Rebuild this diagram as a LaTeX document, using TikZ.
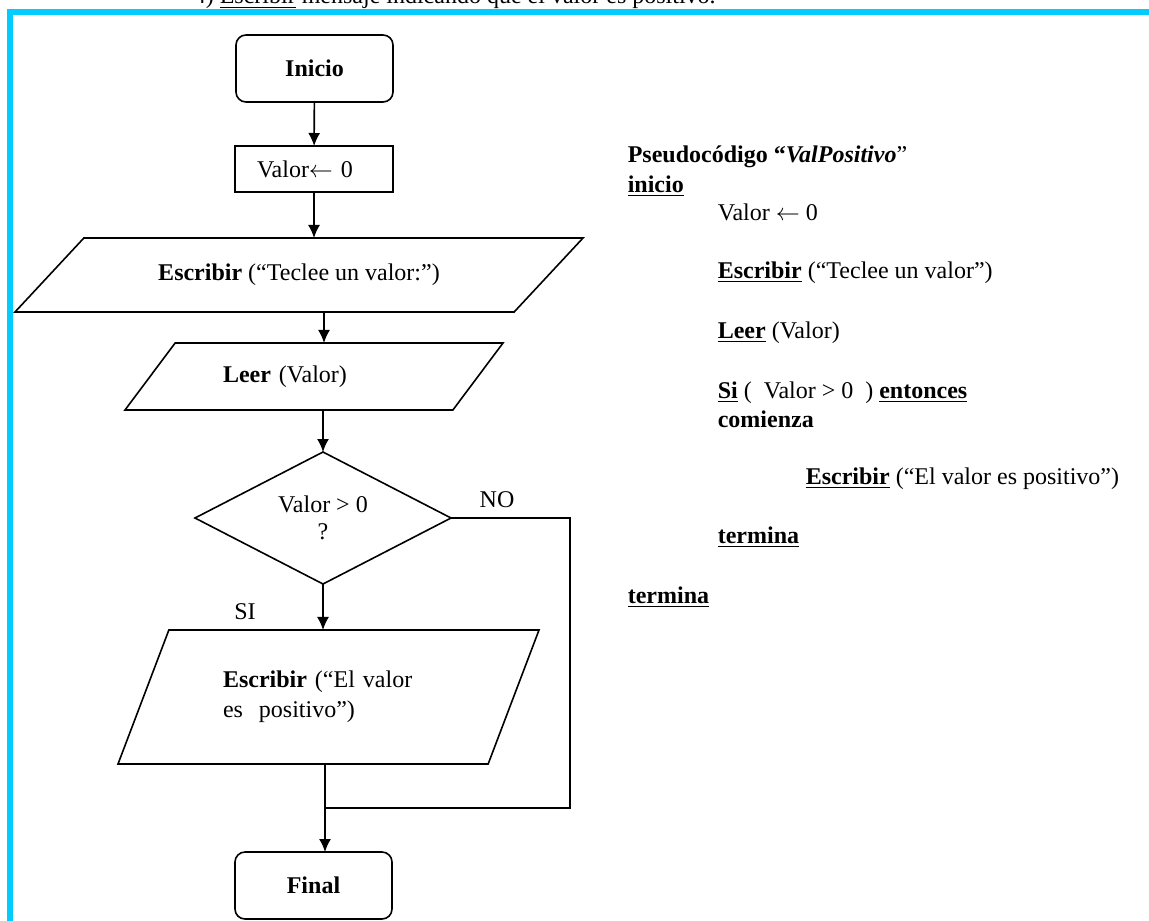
\documentclass[tikz,border=0pt]{standalone}
\usepackage{fontspec}
\setmainfont{Liberation Serif}
\usetikzlibrary{positioning,arrows.meta,shapes.geometric}
\definecolor{marco}{RGB}{0,204,255}
\tikzset{
  terminal/.style={draw, rounded corners=5pt, minimum width=78.5pt, minimum height=33.5pt, outer sep=0pt, font=\fontsize{12}{15}\selectfont\bfseries},
  proceso/.style={draw, minimum width=79pt, minimum height=23pt, outer sep=0pt, text width=57pt, align=left},
  datos/.style={draw, trapezium, trapezium stretches body, outer sep=0pt},
  decision/.style={draw, diamond, aspect=2, minimum width=128pt, minimum height=66pt, inner sep=1pt, outer sep=0pt, align=center, font=\fontsize{12}{13.5}\selectfont},
  pseudo/.style={anchor=base west, inner sep=0pt}
}

\begin{document}
\begin{tikzpicture}[x=0.5pt, y=-0.5pt, line width=0.8pt, >={Latex[length=6.5pt,width=6pt]}, font=\fontsize{12}{15}\selectfont]
\useasboundingbox (0,0) rectangle (1149,920);
\draw[marco, line width=3pt] (10,12.5) rectangle (1170,940);
\node[pseudo] (titulo) at (193,4) {4) \underline{Escribir} mensaje indicando que el valor es positivo.};

% diagrama de flujo
\node[terminal] (inicio) at (314.5,68.5) {Inicio};
\node[proceso] (valor) at (314,169) {Valor$\leftarrow$ 0};
\node[datos, trapezium left angle=27, trapezium right angle=153, minimum width=284pt, minimum height=37pt] (esc1) at (299,275) {\textbf{Escribir} (“Teclee un valor:”)};
\node[datos, trapezium left angle=35, trapezium right angle=145, minimum width=189pt, minimum height=33.5pt, text width=91pt, align=left] (leer) at (314,376.5) {\textbf{Leer} (Valor)};
\node[decision] (cond) at (323,518) {Valor > 0\\?};
\node[datos, trapezium left angle=52, trapezium right angle=128, minimum width=210.5pt, minimum height=67pt, text width=105.5pt, align=left] (esc2) at (328.5,697) {\textbf{Escribir} (“El valor\\es\ \ positivo”)};
\node[terminal] (final) at (313.5,885.5) {Final};
\node (no) at (497,500) {NO};
\node (si) at (245,612) {SI};
\coordinate (eje) at (324,0);
\coordinate (esquina) at (570,808);
\coordinate (union) at (325,808);

\draw[->] (inicio) -- (valor);
\draw[->] (valor.south) -- (valor.south |- esc1.north);
\draw[->] (esc1.south -| eje) -- (leer.north -| eje);
\draw[->] (leer.south -| cond.north) -- (cond.north);
\draw[->] (cond.south) -- (esc2.north -| cond.south);
\draw (cond.east) -| (esquina) -- (union);
\draw[->] (esc2.south -| union) -- (final.north -| union);

% pseudocodigo
\node[pseudo] (encab) at (627,162) {\textbf{Pseudocódigo “\textit{ValPositivo}}”};
\node[pseudo] (inicioP) at (627,192) {\underline{\textbf{inicio}}};
\node[pseudo] (asigP) at (717,220) {Valor $\leftarrow$ 0};
\node[pseudo] (escP) at (717,278) {\underline{\textbf{Escribir}} (“Teclee un valor”)};
\node[pseudo] (leerP) at (717,338) {\underline{\textbf{Leer}} (Valor)};
\node[pseudo] (siP) at (717,398) {\underline{\textbf{Si}} (\ \ Valor > 0\ \ ) \underline{\textbf{entonces}}};
\node[pseudo] (comP) at (717,427) {\textbf{comienza}};
\node[pseudo] (escP2) at (805,484) {\underline{\textbf{Escribir}} (“El valor es positivo”)};
\node[pseudo] (termP1) at (717,543) {\underline{\textbf{termina}}};
\node[pseudo] (termP2) at (627,603) {\underline{\textbf{termina}}};
\end{tikzpicture}
\end{document}
